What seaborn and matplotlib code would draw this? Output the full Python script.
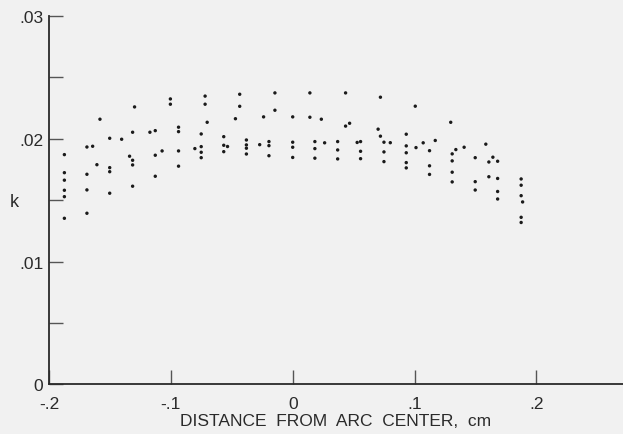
import matplotlib
matplotlib.use("Agg")
import matplotlib.pyplot as plt
import seaborn as sns
import pandas as pd

# Measured absorption coefficient k at positions across the arc (cm)
distance_cm = [
    -0.1874, -0.1874, -0.1874, -0.1874, -0.1874, -0.1874,
    -0.1689, -0.1689, -0.1689, -0.1689,
    -0.1642, -0.1607, -0.1582,
    -0.1502, -0.1502, -0.1502, -0.1502,
    -0.1404, -0.1339,
    -0.1314, -0.1314, -0.1314, -0.1314,
    -0.1298, -0.1172,
    -0.1128, -0.1128, -0.1128,
    -0.1072,
    -0.1004, -0.1004,
    -0.0937, -0.0937, -0.0937, -0.0937,
    -0.0803,
    -0.0751, -0.0751, -0.0751, -0.0751,
    -0.0719, -0.0719,
    -0.0702,
    -0.0566, -0.0566, -0.0566,
    -0.0535, -0.0470,
    -0.0435, -0.0435,
    -0.0380, -0.0380, -0.0380, -0.0380,
    -0.0271, -0.0239,
    -0.0195, -0.0195, -0.0195,
    -0.0146, -0.0146,
    0.0000, 0.0000, 0.0000, 0.0000,
    0.0141, 0.0141,
    0.0182, 0.0182, 0.0182,
    0.0235, 0.0262,
    0.0369, 0.0369, 0.0369,
    0.0434, 0.0434,
    0.0467, 0.0529,
    0.0557, 0.0557, 0.0557,
    0.0701,
    0.0720, 0.0720,
    0.0749, 0.0749, 0.0749,
    0.0801,
    0.0932, 0.0932, 0.0932, 0.0932, 0.0932,
    0.1006, 0.1012, 0.1071,
    0.1123, 0.1123, 0.1123,
    0.1170, 0.1297,
    0.1309, 0.1309, 0.1309, 0.1309,
    0.1339, 0.1407,
    0.1498, 0.1498, 0.1498,
    0.1585,
    0.1610, 0.1610,
    0.1643,
    0.1682, 0.1682, 0.1682, 0.1682,
    0.1875, 0.1875, 0.1875, 0.1875, 0.1875,
    0.1887,
]

k_values = [
    0.01870, 0.01723, 0.01662, 0.01580, 0.01528, 0.01352,
    0.01932, 0.01710, 0.01583, 0.01393,
    0.01938, 0.01788, 0.02158,
    0.02003, 0.01764, 0.01731, 0.01556,
    0.01995, 0.01857,
    0.02052, 0.01824, 0.01786, 0.01613,
    0.02258, 0.02052,
    0.02065, 0.01865, 0.01694,
    0.01900,
    0.02323, 0.02280,
    0.02093, 0.02057, 0.01900, 0.01776,
    0.01919,
    0.02038, 0.01935, 0.01889, 0.01845,
    0.02346, 0.02280,
    0.02133,
    0.02016, 0.01946, 0.01894,
    0.01936, 0.02162,
    0.02361, 0.02263,
    0.01989, 0.01949, 0.01922, 0.01875,
    0.01951, 0.02177,
    0.01976, 0.01943, 0.01861,
    0.02372, 0.02231,
    0.02177, 0.01971, 0.01930, 0.01847,
    0.02372, 0.02174,
    0.01976, 0.01919, 0.01841,
    0.02158, 0.01966,
    0.01976, 0.01908, 0.01835,
    0.02372, 0.02102,
    0.02125, 0.01969,
    0.01976, 0.01897, 0.01837,
    0.02077,
    0.02337, 0.02020,
    0.01971, 0.01892, 0.01813,
    0.01967,
    0.02036, 0.01941, 0.01885, 0.01805, 0.01762,
    0.02264, 0.01927, 0.01966,
    0.01902, 0.01779, 0.01709,
    0.01985, 0.02133,
    0.01876, 0.01819, 0.01727, 0.01648,
    0.01911, 0.01930,
    0.01845, 0.01650, 0.01582,
    0.01955,
    0.01810, 0.01690,
    0.01849,
    0.01816, 0.01676, 0.01570, 0.01509,
    0.01672, 0.01621, 0.01536, 0.01360, 0.01318,
    0.01485,
]

x_ticks = [-0.2, -0.1, 0.0, 0.1, 0.2]
x_tick_labels = ["-.2", "-.1", "0", ".1", ".2"]
y_ticks = [0.0, 0.005, 0.01, 0.015, 0.02, 0.025, 0.03]
y_tick_labels = ["0", "", ".01", "", ".02", "", ".03"]

df = pd.DataFrame({"distance": distance_cm, "k": k_values})

sns.set_style("white")
plt.rcParams["font.family"] = ["Liberation Sans", "DejaVu Sans"]

bg = "#f1f1f1"
ink = "#2a2a2a"

fig = plt.figure(figsize=(6.23, 4.35), dpi=100, facecolor=bg)
ax = fig.add_axes([0.0787, 0.1138, 0.9213, 0.8478])
ax.set_facecolor(bg)

sns.scatterplot(data=df, x="distance", y="k", ax=ax, s=6, color="#1a1a1a",
                edgecolor="none", linewidth=0)

ax.set_xlim(-0.2, 0.2711)
ax.set_ylim(0.0, 0.03)

for side in ("top", "right"):
    ax.spines[side].set_visible(False)
for side in ("left", "bottom"):
    ax.spines[side].set_color(ink)
    ax.spines[side].set_linewidth(1.3)

ax.set_xticks(x_ticks)
ax.set_xticklabels(x_tick_labels)
ax.set_yticks(y_ticks)
ax.set_yticklabels(y_tick_labels)
ax.tick_params(axis="both", which="major", bottom=True, left=True,
               direction="in", length=10, width=1.0, color="#555555",
               labelcolor=ink, labelsize=12.5)
ax.tick_params(axis="x", pad=8)
ax.tick_params(axis="y", pad=4)

ax.set_xlabel("DISTANCE  FROM  ARC  CENTER,  cm", fontsize=12.5, color=ink, labelpad=2)
ax.set_ylabel("k", fontsize=13, color=ink, rotation=0, labelpad=0, va="center")
ax.yaxis.set_label_coords(-0.06, 0.497)

fig.savefig("out.png", dpi=100, facecolor=bg)
